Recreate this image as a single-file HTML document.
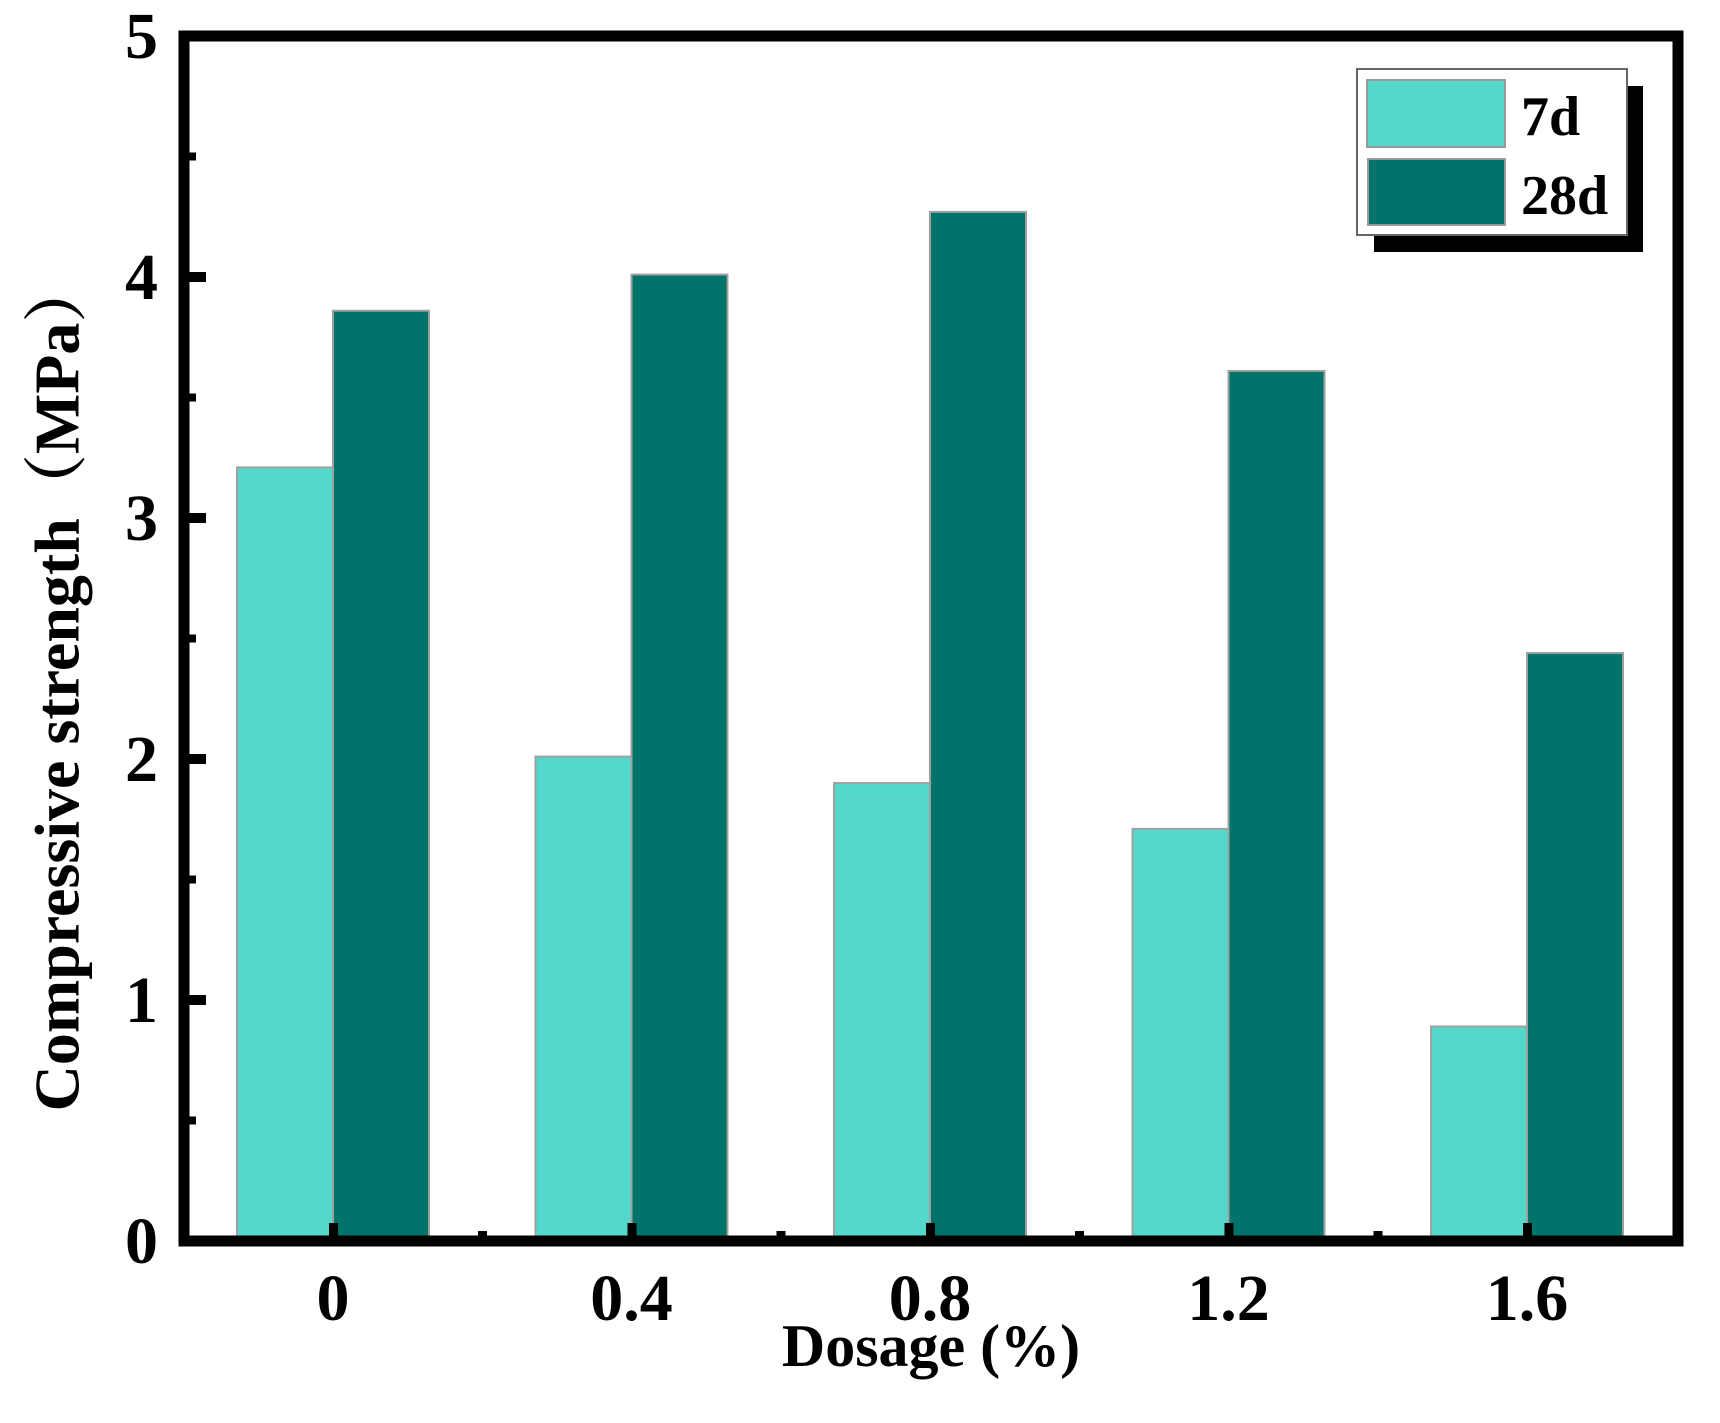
<!DOCTYPE html>
<html><head><meta charset="utf-8"><style>
html,body{margin:0;padding:0;background:#fff;}
svg{display:block;}
text{font-family:"Liberation Serif","Noto Serif CJK SC",serif;font-weight:bold;fill:#000;}
</style></head><body>
<svg id="chart" width="1720" height="1423" viewBox="0 0 1720 1423">
<g id="bars"></g>
<g id="axes"></g>
<text x="64" y="685" font-size="64" text-anchor="middle" dominant-baseline="middle" transform="rotate(-90 64 685)">Compressive strength（MPa）</text>
<text x="931" y="1366" font-size="60" text-anchor="middle">Dosage (%)</text>
<g>
<rect x="1374" y="86" width="269" height="166" fill="#000"/>
<rect x="1357" y="69" width="270" height="166" fill="#fff" stroke="#666" stroke-width="2"/>
<rect x="1367" y="80" width="138" height="67" fill="#55d8cc" stroke="#999" stroke-width="2"/>
<text x="1521" y="135" font-size="56">7d</text>
<rect x="1368" y="159" width="137" height="66" fill="#00736a" stroke="#999" stroke-width="2"/>
<text x="1521" y="214" font-size="56">28d</text>
</g>
</svg>
<script>
const categories = ["0","0.4","0.8","1.2","1.6"];
const values7d = [3.21, 2.01, 1.90, 1.71, 0.89];
const values28d = [3.86, 4.01, 4.27, 3.61, 2.44];
const yTicks = [0,1,2,3,4,5];

const NS = "http://www.w3.org/2000/svg";
const X0 = 184, X1 = 1678, Y0 = 1241, Y1 = 36;
function yScale(v){ return Y0 - (Y0 - Y1) * v / 5; }
function xScale(i){ return 333 + 298.5 * i; }
const BW = 96;
function mk(tag, attrs, parent){
  const el = document.createElementNS(NS, tag);
  for (const k in attrs) el.setAttribute(k, attrs[k]);
  parent.appendChild(el);
  return el;
}
const bars = document.getElementById('bars');
const axes = document.getElementById('axes');
categories.forEach((c, i) => {
  const cx = xScale(i);
  const b1 = mk('rect', {x: cx - BW, y: yScale(values7d[i]), width: BW, height: Y0 - yScale(values7d[i]), fill: '#55d8cc', stroke: '#a0a0a0', 'stroke-width': 2}, bars);
  
  
  const b2 = mk('rect', {x: cx, y: yScale(values28d[i]), width: BW, height: Y0 - yScale(values28d[i]), fill: '#00736a', stroke: '#a0a0a0', 'stroke-width': 2}, bars);
  
  
  const t = mk('text', {x: cx, y: 1320, 'font-size': 66, 'text-anchor': 'middle'}, axes);
  t.textContent = c;
  
  
  const tk = mk('rect', {x: cx - 4, y: Y0 - 18, width: 9, height: 18, fill: '#000'}, axes);
  
  
  if (i < categories.length - 1) {
    const mt = mk('rect', {x: cx + 149 - 4, y: Y0 - 10, width: 9, height: 10, fill: '#000'}, axes);
    
    
  }
});
yTicks.forEach((v, i) => {
  const y = yScale(v);
  const t = mk('text', {x: 158, y: y + 22, 'font-size': 66, 'text-anchor': 'end'}, axes);
  t.textContent = v;
  
  
  if (v > 0 && v < 5) {
    const tk = mk('rect', {x: X0, y: y - 5, width: 22, height: 10, fill: '#000'}, axes);
    
    
  }
  if (i < yTicks.length - 1) {
    const mt = mk('rect', {x: X0, y: yScale(v + 0.5) - 4, width: 12, height: 8, fill: '#000'}, axes);
    
    
  }
});
const frame = mk('rect', {x: X0, y: Y1, width: X1 - X0, height: Y0 - Y1, fill: 'none', stroke: '#000', 'stroke-width': 11}, axes);


</script>
</body></html>
